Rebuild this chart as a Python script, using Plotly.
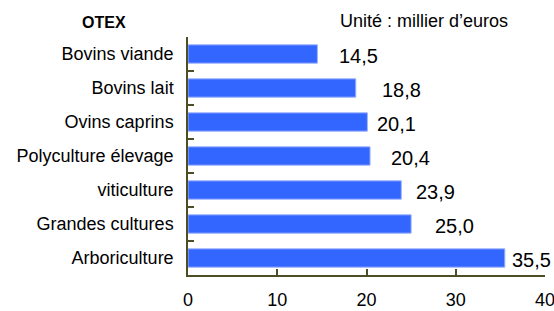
import plotly.graph_objects as go

categories = ["Bovins viande", "Bovins lait", "Ovins caprins", "Polyculture élevage",
              "viticulture", "Grandes cultures", "Arboriculture"]
values = [14.5, 18.8, 20.1, 20.4, 23.9, 25.0, 35.5]
value_labels = ["14,5", "18,8", "20,1", "20,4", "23,9", "25,0", "35,5"]
label_shifts = [20, 24, 8, 19, 13, 22, 5]
x_ticks = [0, 10, 20, 30, 40]

font = "Liberation Sans, Arial, sans-serif"
axis_color = "#4d4d26"

fig = go.Figure(go.Bar(
    x=values, y=categories, orientation="h",
    marker=dict(color="#3366ff", line=dict(color="#9fb4ff", width=1)),
    width=0.54, hoverinfo="skip",
))

for c, v, t, s in zip(categories, values, value_labels, label_shifts):
    fig.add_annotation(x=v, y=c, text=t, showarrow=False, xanchor="left",
                       xshift=s, yshift=-2, font=dict(family=font, size=20, color="#000"))

fig.add_annotation(xref="paper", yref="paper", x=-0.3025, y=1.063, yanchor="middle",
                   xanchor="left", text="<b>OTEX</b>", showarrow=False,
                   font=dict(family=font, size=16, color="#000"))
fig.add_annotation(xref="paper", yref="paper", x=0.42, y=1.067, yanchor="middle",
                   xanchor="left", text="Unité : millier d’euros", showarrow=False,
                   font=dict(family=font, size=18, color="#000"))

fig.update_layout(
    width=554, height=311,
    margin=dict(l=188, r=9, t=37, b=36, autoexpand=False),
    paper_bgcolor="white", plot_bgcolor="white",
    showlegend=False,
    xaxis=dict(range=[0, 40], tickvals=x_ticks, ticks="inside", ticklen=6, tickwidth=1.5,
               tickcolor=axis_color, showline=True, linecolor=axis_color, linewidth=1.5,
               showgrid=False, zeroline=False, ticklabelstandoff=8,
               ticklabeloverflow="allow", automargin=False,
               tickfont=dict(family=font, size=18, color="#000")),
    yaxis=dict(autorange="reversed", ticks="inside", tickson="boundaries", ticklen=6,
               tickwidth=1.5, tickcolor=axis_color, showline=True, linecolor=axis_color,
               linewidth=1.5, showgrid=False, ticklabelstandoff=9, automargin=False,
               tickfont=dict(family=font, size=18, color="#000")),
)

fig.write_html("out.html", config={"displayModeBar": False},
               post_script="document.body.style.margin='0';")
